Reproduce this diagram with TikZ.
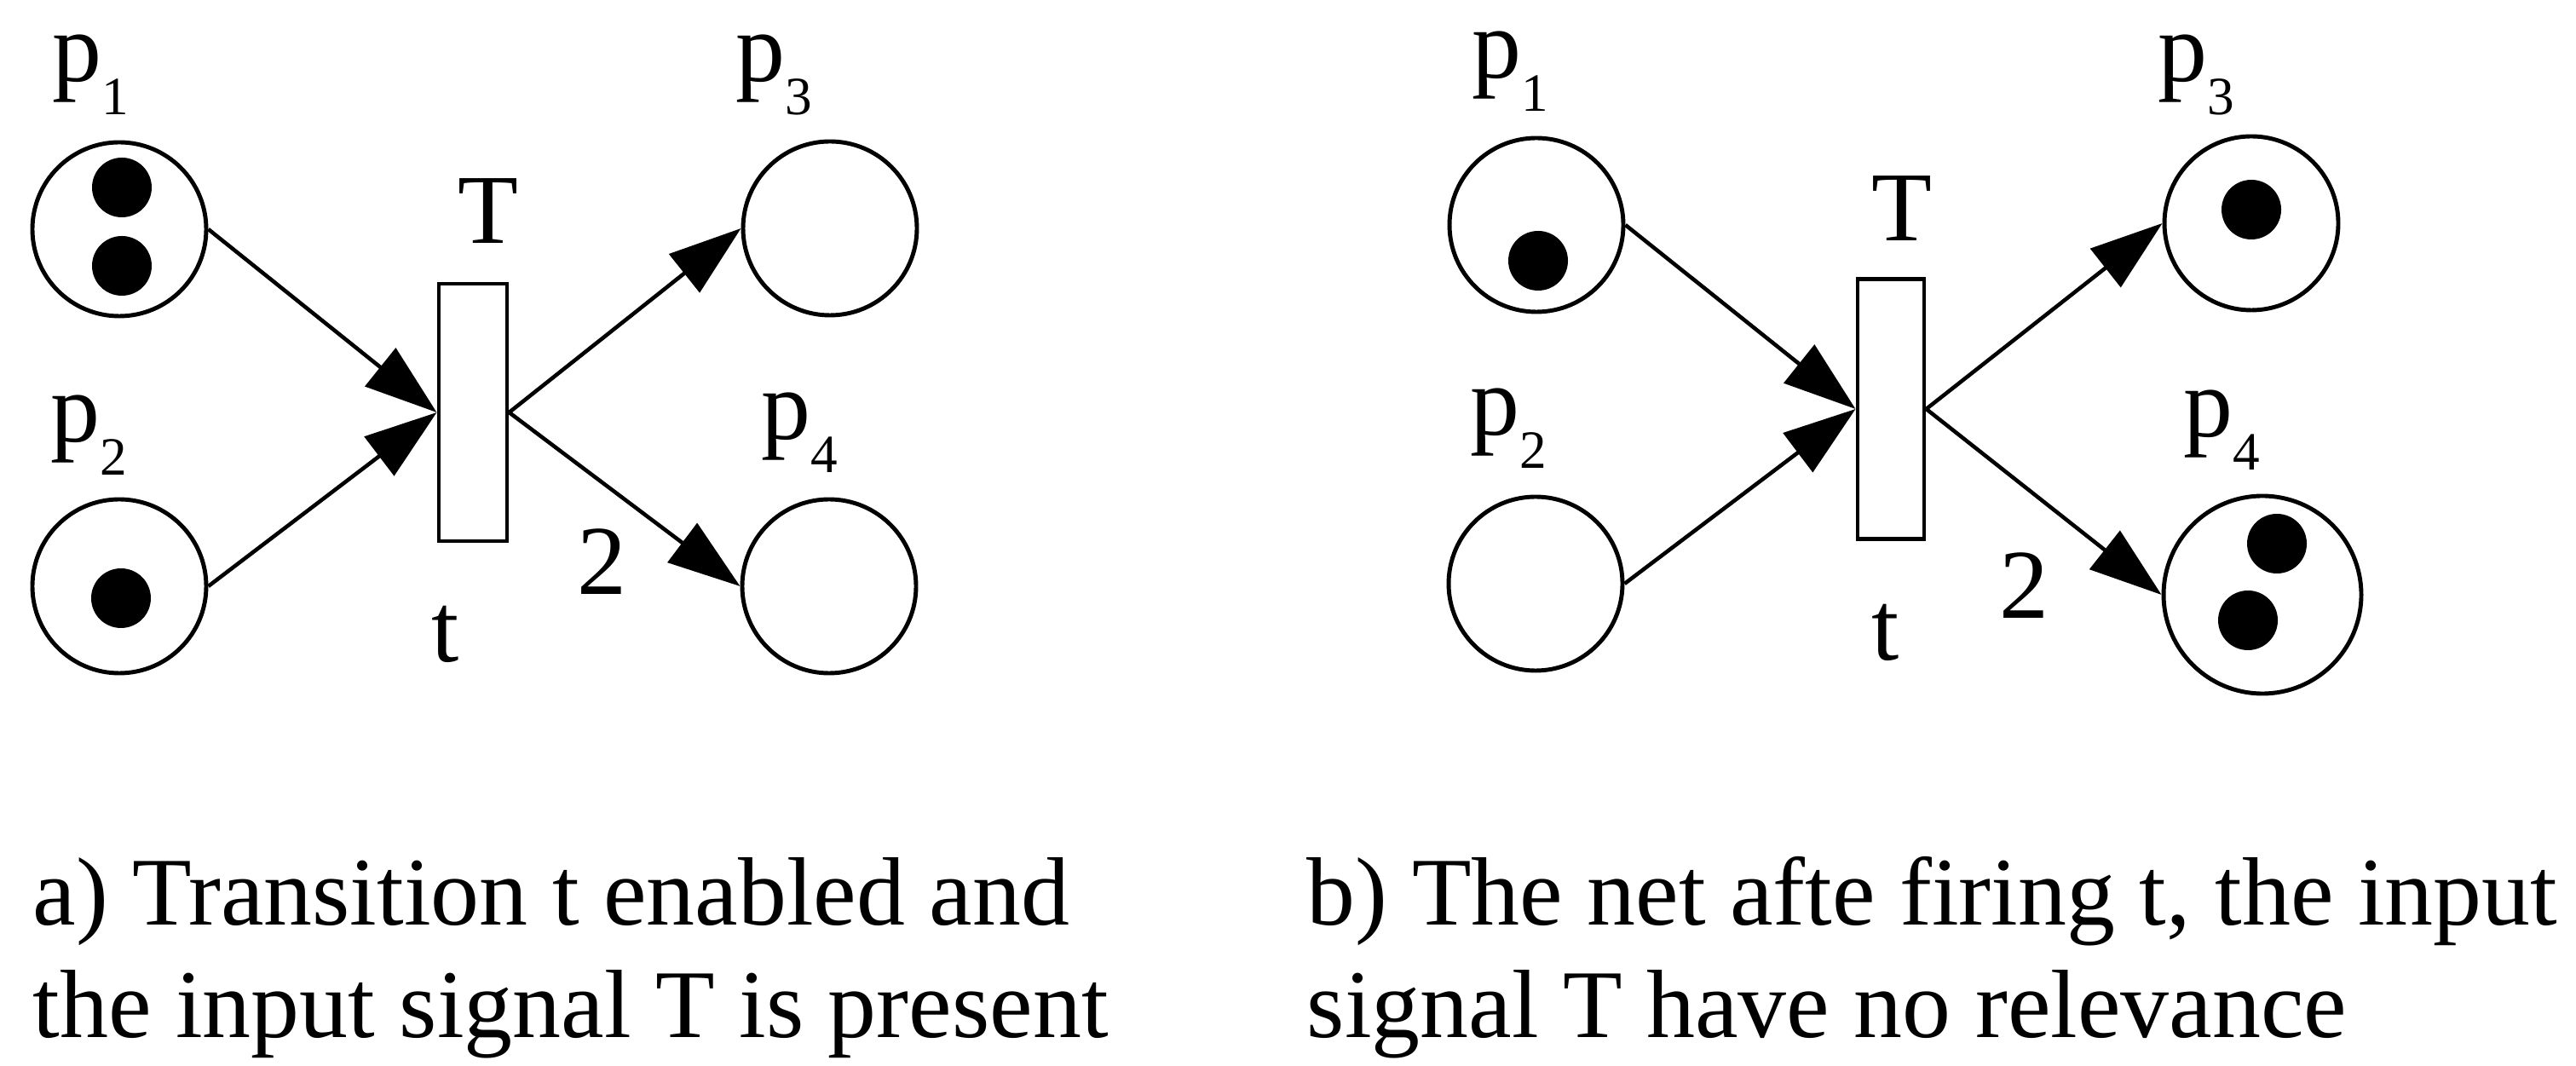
\documentclass[tikz,border=0pt]{standalone}
\usepackage{fontspec}
\setmainfont{Liberation Serif}
\usetikzlibrary{arrows.meta}
\newcommand{\pn}[1]{p\raisebox{-0.33em}{\fontsize{18}{18}\selectfont #1}}

\begin{document}
\begin{tikzpicture}[
  place/.style={circle, draw, line width=1.4pt, minimum size=2.04cm, inner sep=0pt},
  trans/.style={rectangle, draw, line width=1.4pt, minimum width=0.8cm, minimum height=3.02cm, inner sep=0pt},
  token/.style={circle, fill=black, minimum size=0.7cm, inner sep=0pt},
  lab/.style={font=\fontsize{33}{40}\selectfont, inner sep=0pt, anchor=base west},
  arc/.style={line width=1.3pt, -{Triangle[length=0.85cm, width=0.57cm]}},
  capt/.style={font=\fontsize{32.4}{39}\selectfont, inner sep=0pt, anchor=base west}]
  \useasboundingbox (0,0) rectangle (30.23,12.5);

  % a) transition t enabled
  \node[place] (ap1) at (1.40,9.81) {};
  \node[place] (ap2) at (1.40,5.62) {};
  \node[trans] (at) at (5.55,7.66) {};
  \node[place] (ap3) at (9.74,9.82) {};
  \node[place] (ap4) at (9.73,5.62) {};
  \node[token] (ak1) at (1.43,10.30) {};
  \node[token] (ak2) at (1.43,9.38) {};
  \node[token] (ak3) at (1.42,5.48) {};
  \node[lab] (ap1l) at (0.61,11.54) {\pn{1}};
  \node[lab] (ap2l) at (0.59,7.31) {\pn{2}};
  \node[lab] (ap3l) at (8.63,11.54) {\pn{3}};
  \node[lab] (ap4l) at (8.93,7.34) {\pn{4}};
  \node[lab, anchor=base] (aT) at (5.73,9.64) {T};
  \node[lab, anchor=base] (atl) at (5.23,4.73) {t};
  \node[lab, anchor=base] (aw) at (7.06,5.52) {2};
  \draw[arc] (ap1.east) -- (at.west);
  \draw[arc] (ap2.east) -- (at.west);
  \draw[arc] (at.east) -- (ap3.west);
  \draw[arc] (at.east) -- (ap4.west);

  % b) after firing t
  \node[place] (bp1) at (18.03,9.86) {};
  \node[place] (bp2) at (18.02,5.65) {};
  \node[trans, minimum width=0.78cm, minimum height=3.05cm] (bt) at (22.19,7.70) {};
  \node[place] (bp3) at (26.42,9.88) {};
  \node[place, minimum size=2.32cm] (bp4) at (26.55,5.52) {};
  \node[token] (bk1) at (18.05,9.44) {};
  \node[token] (bk2) at (26.42,10.04) {};
  \node[token] (bk3) at (26.72,6.12) {};
  \node[token] (bk4) at (26.38,5.22) {};
  \node[lab] (bp1l) at (17.27,11.58) {\pn{1}};
  \node[lab] (bp2l) at (17.25,7.39) {\pn{2}};
  \node[lab] (bp3l) at (25.32,11.54) {\pn{3}};
  \node[lab] (bp4l) at (25.62,7.37) {\pn{4}};
  \node[lab, anchor=base] (bT) at (22.32,9.67) {T};
  \node[lab, anchor=base] (btl) at (22.13,4.75) {t};
  \node[lab, anchor=base] (bw) at (23.75,5.24) {2};
  \draw[arc] (bp1.east) -- (bt.west);
  \draw[arc] (bp2.east) -- (bt.west);
  \draw[arc] (bt.east) -- (bp3.west);
  \draw[arc] (bt.east) -- (bp4.west);

  % captions
  \node[capt] (ca1) at (0.38,1.65) {a) Transition t enabled and};
  \node[capt] (ca2) at (0.38,0.33) {the input signal T is present};
  \node[capt] (cb1) at (15.33,1.65) {b) The net afte firing t, the input};
  \node[capt] (cb2) at (15.33,0.33) {signal T have no relevance};
\end{tikzpicture}
\end{document}
